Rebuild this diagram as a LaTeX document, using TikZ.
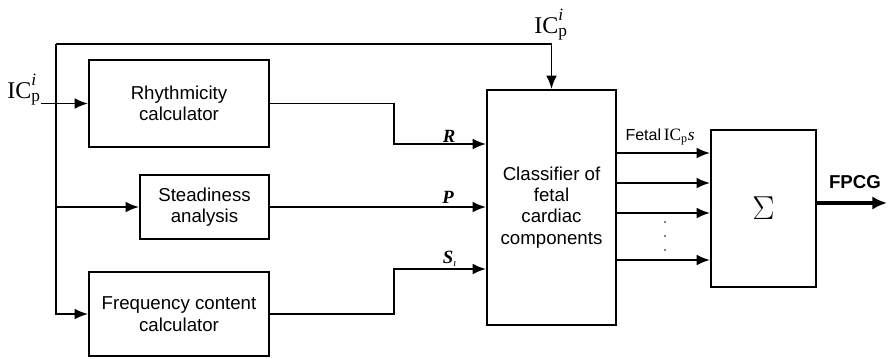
\documentclass[tikz,border=0pt]{standalone}
\usepackage[no-math]{fontspec}
\setmainfont{Liberation Sans}
\newfontfamily\serifit{Liberation Serif}
\usetikzlibrary{arrows.meta}
\newcommand{\icp}[2]{$\hbox{\serifit\fontsize{#1}{#1}\selectfont IC}_{\hbox{\serifit\fontsize{#2}{#2}\selectfont p}}^{\hbox{\serifit\itshape\fontsize{#2}{#2}\selectfont i}}$}
\newcommand{\icps}{$\hbox{\serifit\fontsize{13}{13}\selectfont IC}_{\hbox{\serifit\fontsize{9}{9}\selectfont p}}\hbox{\serifit\itshape\fontsize{13}{13}\selectfont s}$}
\tikzset{
  box/.style={draw, line width=1.4pt, inner sep=0pt, align=center,
    font=\fontsize{14}{16}\selectfont},
  arr/.style={line width=1.4pt, -{Latex[length=10pt,width=8pt]}},
  sig/.style={font=\fontsize{14}{16}\selectfont\serifit\itshape\bfseries},
}
\begin{document}
\begin{tikzpicture}[x=0.75pt,y=-0.75pt]
\useasboundingbox (0,0) rectangle (889,358);
% boxes
\node[box, minimum width=135pt, minimum height=65.25pt] (rhy) at (179,103.5) {Rhythmicity\\calculator};
\node[box, minimum width=96.75pt, minimum height=48pt] (std) at (204.5,207) {Steadiness\\analysis};
\node[box, minimum width=135pt, minimum height=63pt] (frq) at (179,314) {Frequency content\\calculator};
\node[box, minimum width=96.75pt, minimum height=176.25pt] (cls) at (551.5,207.5) {Classifier of\\fetal\\cardiac\\components};
\node[box, minimum width=78.75pt, minimum height=117.75pt] (sum) at (763.5,208.5) {\fontsize{30}{32}\selectfont$\Sigma$};
% coordinates
\coordinate (in0) at (41,103.5);
\coordinate (tl) at (56,44);
\coordinate (bs) at (56,207);
\coordinate (rk) at (394,144);
\coordinate (sk) at (394,269);
\coordinate (o1) at (616,153);
\coordinate (o2) at (616,183);
\coordinate (o3) at (616,213);
\coordinate (o4) at (616,260);
\coordinate (fp) at (887,203);
% input labels
\node (icl) at (24,90) {\icp{18}{13}};
\node (ict) at (551,25) {\icp{18}{13}};
% input connections
\draw[arr] (in0) -- (rhy.west);
\draw[arr] (tl) |- (frq.west);
\draw[arr] (bs) -- (std.west);
\draw[arr] (tl) -| (cls.north);
% features
\draw[arr] (rhy.east) -| (rk) -- (cls.west |- rk);
\draw[arr] (std.east) -- (cls.west |- std.east);
\draw[arr] (frq.east) -| (sk) -- (cls.west |- sk);
\node[sig] (lr) at (449,136) {R};
\node[sig] (lp) at (448,197) {P};
\node[sig] (ls) at (450,259) {S\textsubscript{\normalfont\fontsize{8}{9}\selectfont\serifit\itshape\i}};
% outputs
\draw[arr] (o1) -- (sum.west |- o1);
\draw[arr] (o2) -- (sum.west |- o2);
\draw[arr] (o3) -- (sum.west |- o3);
\draw[arr] (o4) -- (sum.west |- o4);
\node[font=\fontsize{12}{14}\selectfont] (fet) at (660,137) {Fetal\,\icps};
\fill (665,222) circle (0.9) (665,236) circle (0.9) (665,250) circle (0.9);
% final output
\draw[line width=3pt, -{Latex[length=11pt,width=10pt]}] (sum.east |- fp) -- (fp);
\node[font=\fontsize{14}{16}\selectfont\bfseries] (fpcg) at (855,182) {FPCG};
\end{tikzpicture}
\end{document}
